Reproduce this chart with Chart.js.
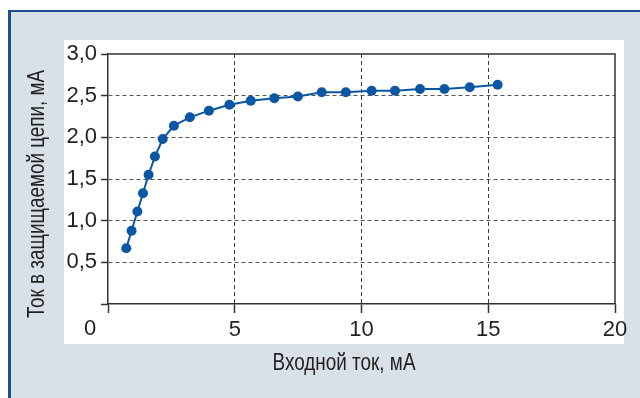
<!DOCTYPE html>
<html>
<head>
<meta charset="utf-8">
<script src="https://cdn.jsdelivr.net/npm/chart.js@4/dist/chart.umd.min.js"></script>
<style>
  html, body { margin: 0; padding: 0; background: #fff; }
  #wrap { width: 640px; height: 398px; }
</style>
</head>
<body>
<div id="wrap"><canvas id="grafico" width="640" height="398"></canvas></div>
<script>
// Datos
const corrienteEntrada = [0.72, 0.93, 1.16, 1.38, 1.60, 1.85, 2.16, 2.60, 3.23, 3.98, 4.79, 5.63, 6.56, 7.49, 8.43, 9.38, 10.40, 11.32, 12.31, 13.27, 14.27, 15.37];
const corrienteCircuito = [0.67, 0.88, 1.11, 1.33, 1.55, 1.77, 1.98, 2.14, 2.24, 2.32, 2.39, 2.44, 2.47, 2.49, 2.54, 2.54, 2.56, 2.56, 2.58, 2.58, 2.60, 2.63];
const ticksX = [0, 5, 10, 15, 20];
const ticksY = [0, 0.5, 1.0, 1.5, 2.0, 2.5, 3.0];
const tituloX = 'Входной ток, мА';
const tituloY = 'Ток в защищаемой цепи, мА';

const AZUL = '#0b57a4';
const TEXTO = '#231f20';
const FUENTE = "'Liberation Sans', Arial, sans-serif";

const puntos = corrienteEntrada.map((x, i) => ({ x: x, y: corrienteCircuito[i] }));

// Dibuja un texto estrechado horizontalmente hasta el ancho pedido (fuente condensada del original)
function textoEstrecho(ctx, texto, x, y, ancho, angulo) {
  ctx.save();
  ctx.translate(x, y);
  ctx.rotate(angulo);
  const w = ctx.measureText(texto).width;
  ctx.scale(Math.min(1, ancho / w), 1);
  ctx.fillText(texto, 0, 0);
  ctx.restore();
}

// Fondo gris con marco azul y panel blanco
const fondo = {
  id: 'fondo',
  beforeDraw(chart) {
    const ctx = chart.ctx;
    ctx.save();
    ctx.fillStyle = '#ffffff';
    ctx.fillRect(0, 0, 640, 398);
    ctx.fillStyle = '#1c4f8b';
    ctx.fillRect(8, 10, 640, 398);
    ctx.fillStyle = '#d8e0e8';
    ctx.fillRect(11, 12, 640, 398);
    ctx.fillStyle = '#ffffff';
    ctx.fillRect(64, 40, 560, 304);
    ctx.restore();
  },
  afterDraw(chart) {
    const ctx = chart.ctx;
    const a = chart.chartArea;
    ctx.save();
    // marco superior y derecho sólido
    ctx.strokeStyle = '#333333';
    ctx.lineWidth = 1.5;
    ctx.beginPath();
    ctx.moveTo(a.left, a.top);
    ctx.lineTo(a.right, a.top);
    ctx.lineTo(a.right, a.bottom);
    ctx.stroke();
    // el "0" del eje X va desplazado a la izquierda en el original
    ctx.fillStyle = TEXTO;
    ctx.font = '22px ' + FUENTE;
    ctx.textAlign = 'center';
    ctx.textBaseline = 'middle';
    textoEstrecho(ctx, String(ticksX[0]), 90, 329, 20, 0);
    // títulos de los ejes
    ctx.font = '23px ' + FUENTE;
    textoEstrecho(ctx, tituloX, 344, 364, 143, 0);
    textoEstrecho(ctx, tituloY, 38, 194, 248, -Math.PI / 2);
    ctx.restore();
  }
};

new Chart(document.getElementById('grafico'), {
  type: 'scatter',
  data: {
    datasets: [{
      data: puntos,
      showLine: true,
      borderColor: AZUL,
      backgroundColor: AZUL,
      borderWidth: 2,
      pointRadius: 5,
      pointHoverRadius: 5,
      pointBorderWidth: 0
    }]
  },
  options: {
    responsive: false,
    animation: false,
    devicePixelRatio: 1,
    layout: { padding: { left: 0, top: 54, right: 25, bottom: 0 } },
    plugins: {
      legend: { display: false },
      tooltip: { enabled: false }
    },
    scales: {
      x: {
        type: 'linear',
        min: 0,
        max: 20,
        afterBuildTicks: (s) => { s.ticks = ticksX.map(v => ({ value: v })); },
        afterFit: (s) => { s.height = 94; },
        ticks: {
          color: TEXTO,
          font: { family: FUENTE, size: 22 },
          padding: 4,
          maxRotation: 0,
          callback: (v) => v === 0 ? '' : String(v)
        },
        grid: {
          color: (c) => (c.tick && (c.tick.value === 0 || c.tick.value === 20)) ? 'rgba(0,0,0,0)' : '#3a3a3a',
          lineWidth: 1,
          tickLength: 9,
          tickColor: '#333333',
          tickWidth: 1.5
        },
        border: { display: true, color: '#333333', width: 1.5, dash: [4, 3] }
      },
      y: {
        type: 'linear',
        min: 0,
        max: 3,
        afterBuildTicks: (s) => { s.ticks = ticksY.map(v => ({ value: v })); },
        afterFit: (s) => { s.width = 108; },
        ticks: {
          color: TEXTO,
          font: { family: FUENTE, size: 22 },
          padding: 4,
          callback: (v) => v === 0 ? '' : v.toFixed(1).replace('.', ',')
        },
        grid: {
          color: (c) => (c.tick && (c.tick.value === 0 || c.tick.value === 3)) ? 'rgba(0,0,0,0)' : '#555555',
          lineWidth: 1,
          tickLength: 7,
          tickColor: '#333333',
          tickWidth: 1.5
        },
        border: { display: true, color: '#333333', width: 1.5, dash: [4, 3] }
      }
    }
  },
  plugins: [fondo]
});
</script>
</body>
</html>
